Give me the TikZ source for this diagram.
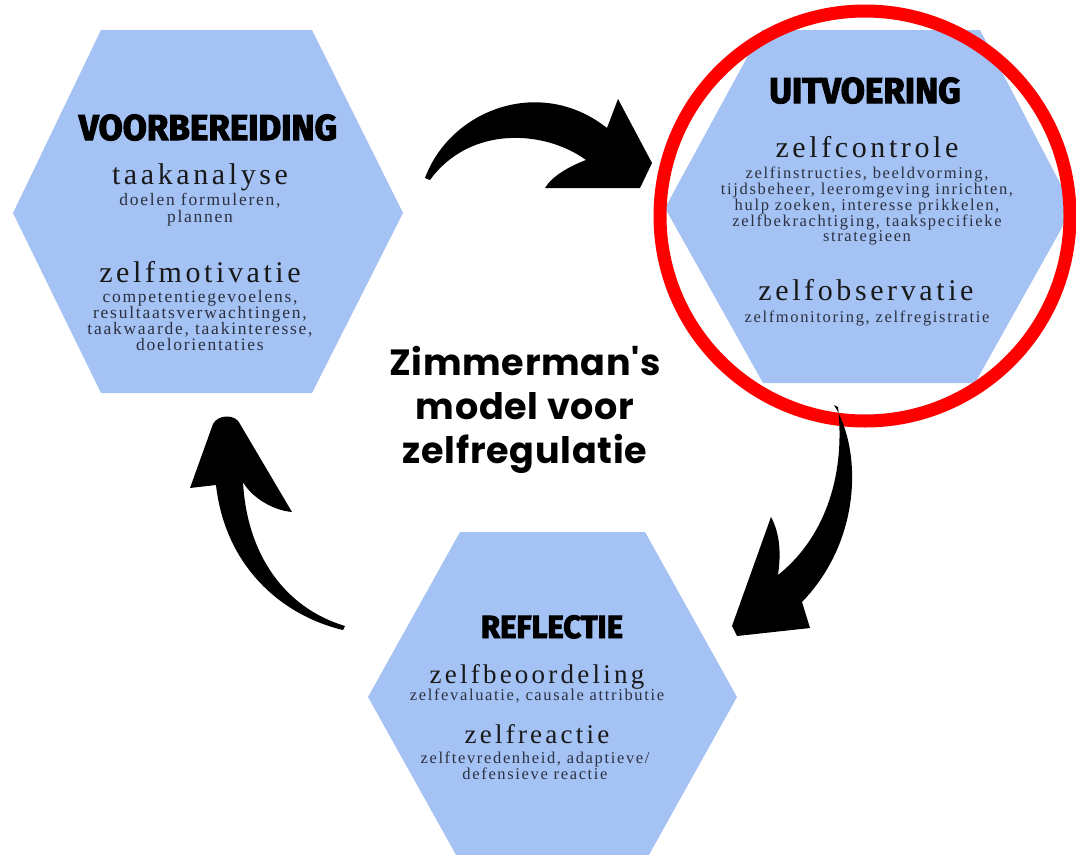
\documentclass[tikz,border=0pt]{standalone}
\usepackage{fontspec}
\setmainfont{Liberation Serif}
\newfontfamily\detailfont{Liberation Serif}[LetterSpace=10]
\newfontfamily\termfont{Liberation Serif}[LetterSpace=12]
\newfontfamily\phasefont{Fira Sans}[FakeStretch=0.97, BoldFeatures={FakeBold=3}]
\newfontfamily\titlefont{Poppins}[LetterSpace=2]
\definecolor{hexblue}{HTML}{A4C2F4}
\definecolor{inktext}{HTML}{2B3140}

\tikzset{
  hexfill/.style={fill=hexblue},
  phasehead/.style={font=\phasefont\bfseries\fontsize{36}{36}\selectfont, anchor=base, inner sep=0pt},
  termtext/.style={font=\termfont\fontsize{30}{30}\selectfont, anchor=base, inner sep=0pt, text=black!90},
  detailtext/.style={font=\detailfont\fontsize{16.5}{15}\selectfont, align=center, anchor=north, inner sep=0pt, text=inktext},
  brusharrow/.style={fill=black},
}

\begin{document}
\begin{tikzpicture}[x=1pt,y=-1pt]
    \useasboundingbox (0,0) rectangle (1076,854);

    \fill[hexfill] (13,213) -- (101,30) -- (312,30) -- (403,213) -- (312,393) -- (101,393) -- cycle;
    \fill[hexfill] (665,208) -- (762,30) -- (980,30) -- (1073,208) -- (975,383) -- (763,383) -- cycle;
    \fill[hexfill] (368,697) -- (460,532) -- (645,532) -- (737,697) -- (645,862) -- (460,862) -- cycle;

    \node[phasehead] (voorbereiding) at (208,140) {VOORBEREIDING};
    \node[termtext] (taakanalyse) at (200,184) {taakanalyse};
    \node[detailtext, font=\detailfont\fontsize{17.5}{17}\selectfont] (doelen) at (200,193) {doelen formuleren,\\plannen};
    \node[termtext] (zelfmotivatie) at (200,282) {zelfmotivatie};
    \node[detailtext, font=\detailfont\fontsize{17.5}{16}\selectfont] (motivatie) at (200,290) {competentiegevoelens,\\resultaatsverwachtingen,\\taakwaarde, taakinteresse,\\doelorientaties};

    \node[phasehead] (uitvoering) at (865,103) {UITVOERING};
    \node[termtext] (zelfcontrole) at (867,157) {zelfcontrole};
    \node[detailtext] (controle) at (867,167) {zelfinstructies, beeldvorming,\\tijdsbeheer, leeromgeving inrichten,\\hulp zoeken, interesse prikkelen,\\zelfbekrachtiging, taakspecifieke\\strategieen};
    \node[termtext] (zelfobservatie) at (866,300) {zelfobservatie};
    \node[detailtext, anchor=base] (observatie) at (867,322) {zelfmonitoring, zelfregistratie};

    \node[phasehead, font=\phasefont\bfseries\fontsize{32}{32}\selectfont] (reflectie) at (552,638) {REFLECTIE};
    \node[termtext, font=\termfont\fontsize{27}{27}\selectfont] (zelfbeoordeling) at (537,683) {zelfbeoordeling};
    \node[detailtext, anchor=base] (beoordeling) at (537,700) {zelfevaluatie, causale attributie};
    \node[termtext, font=\termfont\fontsize{27}{27}\selectfont] (zelfreactie) at (537,743) {zelfreactie};
    \node[detailtext] (reactie) at (535,752) {zelftevredenheid, adaptieve/\\defensieve reactie};

    \node[font=\titlefont\bfseries\fontsize{36.5}{44}\selectfont, align=center, anchor=north, inner sep=0pt] (title) at (525,346) {Zimmerman's\\model voor\\zelfregulatie};

    \draw[red, line width=13pt] (865,216) circle[radius=205];

    \fill[brusharrow] (425,178) .. controls (450,110) and (540,75) .. (607,128) -- (618,99) -- (652,163) -- (640,188) -- (545,188)
        .. controls (552,176) and (570,166) .. (586,160) .. controls (545,130) and (470,125) .. (430,180) -- cycle;
    \fill[brusharrow] (834,405) .. controls (862,450) and (862,540) .. (802,602) -- (810,628) -- (737,636) -- (732,626) -- (771,517)
        .. controls (778,530) and (782,548) .. (778,575) .. controls (822,540) and (846,480) .. (838,407) -- cycle;
    \fill[brusharrow] (343,630) .. controls (280,615) and (225,565) .. (216,485) -- (190,488) -- (213,424)
        .. controls (218,414) and (236,414) .. (240,424) -- (292,512) .. controls (270,510) and (250,495) .. (243,482)
        .. controls (247,555) and (285,608) .. (345,626) -- cycle;
\end{tikzpicture}
\end{document}
